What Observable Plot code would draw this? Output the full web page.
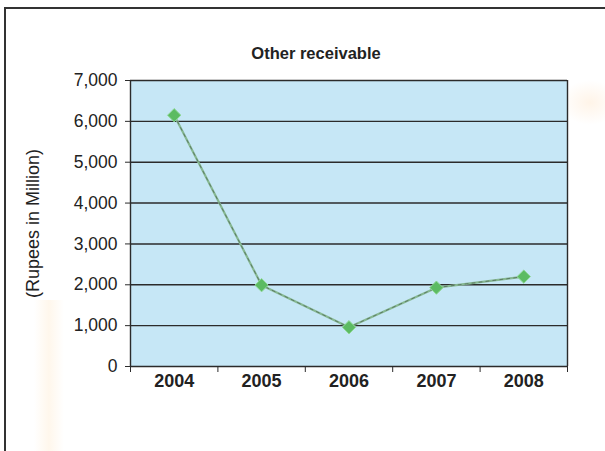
<!DOCTYPE html>
<html><head><meta charset="utf-8">
<script src="https://cdn.jsdelivr.net/npm/d3@7"></script>
<script src="https://cdn.jsdelivr.net/npm/@observablehq/plot@0.6"></script>
<style>
body{margin:0;background:#fff;}
#wrap{position:relative;width:605px;height:451px;overflow:hidden;background:#fff;}
#glow1{position:absolute;left:34px;top:300px;width:30px;height:160px;background:linear-gradient(to right,rgba(255,220,170,0),rgba(255,215,160,0.2),rgba(255,220,170,0));}
#glow2{position:absolute;left:560px;top:80px;width:60px;height:45px;background:radial-gradient(ellipse at center,rgba(255,200,140,0.2),rgba(255,200,140,0) 70%);}
#wrap svg{position:absolute;left:0;top:0;}
#border{position:absolute;left:4px;top:7px;width:620px;height:460px;border-top:2px solid #333;border-left:2px solid #333;pointer-events:none;}
</style></head><body><div id="wrap"><div id="glow1"></div><div id="glow2"></div><div id="border"></div></div>
<script>
const title = "Other receivable";
const yLabel = "(Rupees in Million)";
const years = [2004, 2005, 2006, 2007, 2008];
const values = [6150, 1990, 960, 1930, 2200];
const yTicks = [0, 1000, 2000, 3000, 4000, 5000, 6000, 7000];
const xBounds = [2003.5, 2004.5, 2005.5, 2006.5, 2007.5, 2008.5];

const data = years.map((year, i) => ({year, value: values[i]}));

const chart = Plot.plot({
  width: 605,
  height: 451,
  marginTop: 80,
  marginBottom: 85,
  marginLeft: 130,
  marginRight: 38,
  style: {fontFamily: "'Liberation Sans', Arial, sans-serif", background: "transparent", color: "#222"},
  x: {domain: [xBounds[0], xBounds[xBounds.length - 1]]},
  y: {domain: [0, 7000]},
  marks: [
    Plot.frame({fill: "#c6e7f6", stroke: null}),
    Plot.ruleY(yTicks, {stroke: "#2b2b2b", strokeWidth: 1.4}),
    Plot.ruleX([xBounds[0], xBounds[xBounds.length - 1]], {stroke: "#2b2b2b", strokeWidth: 1.4}),
    Plot.axisY({ticks: yTicks, tickSize: 5, tickPadding: 8, tickFormat: d => d.toLocaleString("en-US"), fontSize: 17.5, label: null, stroke: "#2b2b2b", fill: "#222"}),
    Plot.axisX({ticks: xBounds, tickSize: 6, tickFormat: () => "", label: null, stroke: "#2b2b2b"}),
    Plot.axisX({ticks: years, tickSize: 0, tickPadding: 8, tickFormat: d => String(d), fontSize: 18, fontWeight: "bold", label: null, fill: "#222"}),
    Plot.line(data, {x: "year", y: "value", stroke: "#86b892", strokeWidth: 2.2}),
    Plot.line(data, {x: "year", y: "value", stroke: "#3b4a40", strokeWidth: 0.8, strokeDasharray: "3,4", strokeOpacity: 0.7}),
    Plot.dot(data, {x: "year", y: "value", symbol: "diamond2", r: 6, fill: "#5cbb62", stroke: "#8fd896", strokeWidth: 1}),
    Plot.text([title], {frameAnchor: "top", dx: -33, dy: -33, fontWeight: "bold", fontSize: 16.5, fill: "#222"}),
    Plot.text([yLabel], {frameAnchor: "left", textAnchor: "middle", rotate: -90, dx: -97, fontSize: 18, fill: "#222"})
  ]
});
document.getElementById("wrap").insertBefore(chart, document.getElementById("border"));
</script>
</body></html>
